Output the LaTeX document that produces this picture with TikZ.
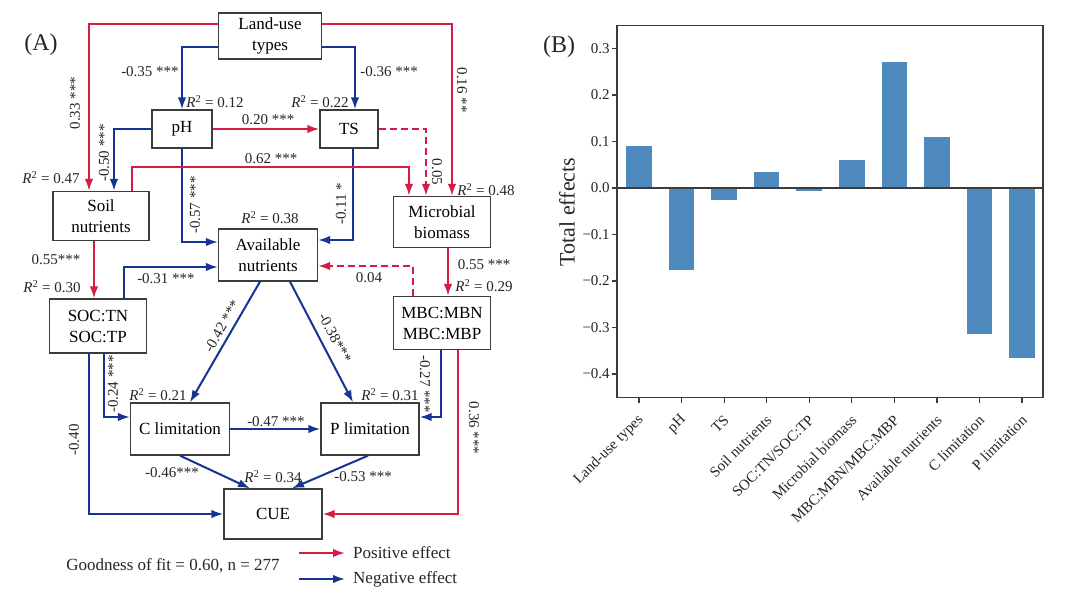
\documentclass[tikz,border=0pt]{standalone}
\usepackage{fontspec}
\setmainfont{Liberation Serif}
\usetikzlibrary{arrows.meta}

\definecolor{posred}{RGB}{214,28,68}
\definecolor{negblue}{RGB}{22,52,148}
\definecolor{barblue}{RGB}{78,138,190}
\definecolor{framegray}{RGB}{60,60,60}
\newcommand{\rsq}[1]{\textit{R}\textsuperscript{2} = #1}

\begin{document}
\begin{tikzpicture}[x=1pt,y=-1pt,
    varbox/.style={
% The shape:
      rectangle, inner sep=0pt, align=center,
% The border:
      draw=framegray, line width=1.3pt,
% Font
      font=\fontsize{17}{21}\selectfont
    },
    poseff/.style={draw=posred, line width=2pt, -{Latex[length=12pt,width=8.5pt]}},
    negeff/.style={draw=negblue, line width=2pt, -{Latex[length=12pt,width=8.5pt]}},
    nonsig/.style={dash pattern=on 7pt off 4pt},
    coef/.style={font=\fontsize{15}{18}\selectfont, inner sep=1pt, text=black!85},
    panel/.style={font=\fontsize{24}{28}\selectfont, text=black!85}
  ]
  \fill[white] (0,0) rectangle (1080,597);
  \useasboundingbox (0,0) rectangle (1080,597);

  % (A) path model
  \node[panel] (tagA) at (41,45) {(A)};
  \node[varbox, minimum width=103pt, minimum height=46pt] (land) at (270,36) {Land-use\\types};
  \node[varbox, minimum width=60pt, minimum height=38pt] (ph) at (182,129) {pH};
  \node[varbox, minimum width=58pt, minimum height=38pt] (ts) at (349,129) {TS};
  \node[varbox, minimum width=96pt, minimum height=49pt] (soil) at (101,216) {Soil\\nutrients};
  \node[varbox, minimum width=97pt, minimum height=51pt] (micro) at (442,222) {Microbial\\biomass};
  \node[varbox, minimum width=99pt, minimum height=52pt] (avail) at (268,255) {Available\\nutrients};
  \node[varbox, minimum width=97pt, minimum height=54pt] (soc) at (98,326) {SOC:TN\\SOC:TP};
  \node[varbox, minimum width=97pt, minimum height=53pt] (mbc) at (442,323) {MBC:MBN\\MBC:MBP};
  \node[varbox, minimum width=99pt, minimum height=52pt] (clim) at (180,429) {C limitation};
  \node[varbox, minimum width=98pt, minimum height=52pt] (plim) at (370,429) {P limitation};
  \node[varbox, minimum width=98pt, minimum height=50pt] (cue) at (273,514) {CUE};

  % paths
  \draw[poseff] ([yshift=12pt]land.west) -| ([xshift=-12pt]soil.north);
  \draw[negeff] ([yshift=-11pt]land.west) -| (ph.north);
  \draw[negeff] ([yshift=-11pt]land.east) -| ([xshift=6pt]ts.north);
  \draw[poseff] ([yshift=12pt]land.east) -| ([xshift=10pt]micro.north);
  \draw[negeff] (ph.west) -| ([xshift=13pt]soil.north);
  \draw[poseff] (ph.east) -- (ts.west);
  \draw[negeff] (ph.south) |- ([yshift=13pt]avail.west);
  \draw[negeff] ([xshift=4pt]ts.south) |- ([yshift=15pt]avail.east);
  \draw[poseff, nonsig] (ts.east) -| ([xshift=-16pt]micro.north);
  \draw[poseff] ([xshift=31pt]soil.north) -- ++(0,-24) -| ([xshift=-33pt]micro.north);
  \draw[poseff] ([xshift=-7pt]soil.south) -- ([xshift=-7pt]soil.south |- soc.north);
  \draw[negeff] ([xshift=26pt]soc.north) |- ([yshift=-12pt]avail.west);
  \draw[poseff] ([xshift=6pt]micro.south) -- ([xshift=6pt]micro.south |- mbc.north);
  \draw[poseff, nonsig] ([xshift=-29pt]mbc.north) |- ([yshift=-11pt]avail.east);
  \draw[negeff] ([xshift=-8pt]avail.south) -- ([xshift=10pt]clim.north);
  \draw[negeff] ([xshift=22pt]avail.south) -- ([xshift=-17pt]plim.north);
  \draw[negeff] ([xshift=6pt]soc.south) |- ([yshift=12pt]clim.west);
  \draw[negeff] ([xshift=-9pt]soc.south) |- (cue.west);
  \draw[negeff] ([xshift=-1pt]mbc.south) |- ([yshift=12pt]plim.east);
  \draw[poseff] ([xshift=16pt]mbc.south) |- (cue.east);
  \draw[negeff] (clim.east) -- (plim.west);
  \draw[negeff] (clim.south) -- ([xshift=-23pt]cue.north);
  \draw[negeff] ([xshift=-2pt]plim.south) -- ([xshift=19pt]cue.north);

  % coefficients
  \node[coef, rotate=90] (k-land-soil) at (75,103) {0.33 ***};
  \node[coef] (k-land-ph) at (150,72) {-0.35 ***};
  \node[coef] (k-land-ts) at (389,72) {-0.36 ***};
  \node[coef, rotate=-90] (k-land-micro) at (462,90) {0.16 **};
  \node[coef, rotate=90] (k-ph-soil) at (104,153) {-0.50 ***};
  \node[coef] (k-ph-ts) at (268,120) {0.20 ***};
  \node[coef] (k-soil-micro) at (271,159) {0.62 ***};
  \node[coef, rotate=-90] (k-ts-micro) at (437,172) {0.05};
  \node[coef, rotate=90] (k-ph-avail) at (195,205) {-0.57 ***};
  \node[coef, rotate=90] (k-ts-avail) at (341,204) {-0.11 *};
  \node[coef] (k-soil-soc) at (56,260) {0.55***};
  \node[coef] (k-soc-avail) at (166,279) {-0.31 ***};
  \node[coef] (k-micro-mbc) at (484,265) {0.55 ***};
  \node[coef] (k-mbc-avail) at (369,278) {0.04};
  \node[coef, rotate=60] (k-avail-clim) at (222,326) {-0.42 ***};
  \node[coef, rotate=-62] (k-avail-plim) at (335,338) {-0.38***};
  \node[coef, rotate=90] (k-soc-clim) at (113,384) {-0.24 ***};
  \node[coef, rotate=90] (k-soc-cue) at (74,440) {-0.40};
  \node[coef, rotate=-90] (k-mbc-plim) at (425,384) {-0.27 ***};
  \node[coef, rotate=-90] (k-mbc-cue) at (474,428) {0.36 ***};
  \node[coef] (k-clim-plim) at (276,422) {-0.47 ***};
  \node[coef] (k-clim-cue) at (172,473) {-0.46***};
  \node[coef] (k-plim-cue) at (363,477) {-0.53 ***};

  % explained variance
  \node[coef] (r-ph) at (215,102) {\rsq{0.12}};
  \node[coef] (r-ts) at (320,102) {\rsq{0.22}};
  \node[coef] (r-soil) at (51,178) {\rsq{0.47}};
  \node[coef] (r-micro) at (486,190) {\rsq{0.48}};
  \node[coef] (r-avail) at (270,218) {\rsq{0.38}};
  \node[coef] (r-soc) at (52,287) {\rsq{0.30}};
  \node[coef] (r-mbc) at (484,286) {\rsq{0.29}};
  \node[coef] (r-clim) at (158,395) {\rsq{0.21}};
  \node[coef] (r-plim) at (390,395) {\rsq{0.31}};
  \node[coef] (r-cue) at (273,477) {\rsq{0.34}};

  % legend
  \node[coef, font=\fontsize{17}{20}\selectfont] (fit) at (173,566) {Goodness of fit = 0.60, n = 277};
  \coordinate (posA) at (299,553);
  \coordinate (posB) at (345,553);
  \coordinate (negA) at (299,579);
  \coordinate (negB) at (345,579);
  \draw[poseff] (posA) -- (posB);
  \draw[negeff] (negA) -- (negB);
  \node[coef, font=\fontsize{17}{20}\selectfont, anchor=west] (postext) at (352,553) {Positive effect};
  \node[coef, font=\fontsize{17}{20}\selectfont, anchor=west] (negtext) at (352,579) {Negative effect};

  % (B) total effects
  \node[panel] (tagB) at (559,47) {(B)};
  \node[coef, font=\fontsize{22}{26}\selectfont, rotate=90] (ylab) at (567,212) {Total effects};
  \begin{scope}[shift={(639,188)}, x=42.56pt, y=465pt]
    \foreach \v [count=\i from 0] in {0.090,-0.176,-0.026,0.034,-0.006,0.060,0.271,0.110,-0.314,-0.366}
      \fill[barblue] (\i-0.3,0) rectangle (\i+0.3,\v);
    \draw[framegray, line width=1.3pt] (-0.515,0) -- (9.49,0);
    \draw[framegray, line width=1.3pt] (-0.515,-0.45) rectangle (9.49,0.35);
    \foreach \t/\tl [count=\j] in {-0.4/−0.4,-0.3/−0.3,-0.2/−0.2,-0.1/−0.1,0/0.0,0.1/0.1,0.2/0.2,0.3/0.3} {
      \draw[framegray, line width=1.2pt] (-0.515,\t) -- (-0.635,\t);
      \node[coef, anchor=east] (yt\j) at (-0.66,\t) {\tl};
    }
    \foreach \name [count=\i from 0] in {Land-use types,pH,TS,Soil nutrients,SOC:TN/SOC:TP,Microbial biomass,MBC:MBN/MBC:MBP,Available nutrients,C limitation,P limitation} {
      \draw[framegray, line width=1.2pt] (\i,-0.45) -- (\i,-0.463);
      \node[coef, anchor=east, rotate=45] (xt\i) at (\i+0.07,-0.4925) {\name};
    }
  \end{scope}
\end{tikzpicture}
\end{document}
